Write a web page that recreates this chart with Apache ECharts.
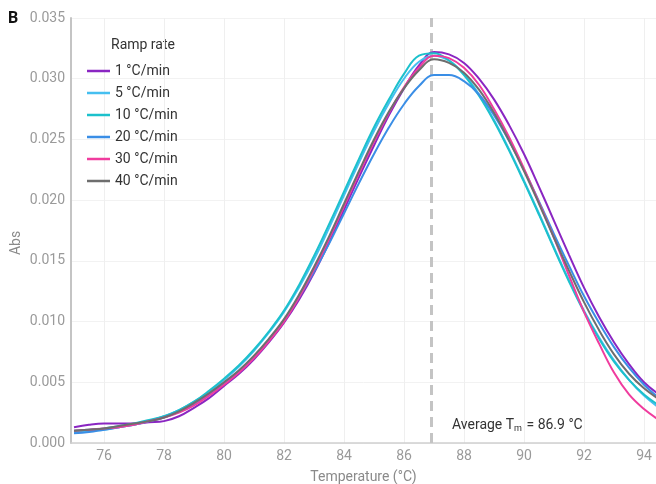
<!DOCTYPE html>
<html>
<head>
<meta charset="utf-8">
<script src="https://cdn.jsdelivr.net/npm/echarts@6/dist/echarts.min.js"></script>
<style>
html,body{margin:0;padding:0;background:#fff;}
#c{width:656px;height:484px;}
</style>
</head>
<body>
<div id="c"></div>
<script>
const temps = [75.0,75.5,76.0,76.5,77.0,77.5,78.0,78.5,79.0,79.5,80.0,80.5,81.0,81.5,82.0,82.5,83.0,83.5,84.0,84.5,85.0,85.5,86.0,86.5,87.0,87.5,88.0,88.5,89.0,89.5,90.0,90.5,91.0,91.5,92.0,92.5,93.0,93.5,94.0,94.5];

const rate1 = [0.0013,0.0015,0.0016,0.0016,0.0016,0.0017,0.0018,0.0022,0.0029,0.0037,0.0047,0.0057,0.0069,0.0083,0.0099,0.0118,0.0140,0.0165,0.0192,0.0219,0.0245,0.0270,0.0292,0.0311,0.0322,0.0320,0.0313,0.0300,0.0283,0.0262,0.0238,0.0211,0.0183,0.0155,0.0128,0.0104,0.0083,0.0065,0.0050,0.0040];
const rate5 = [0.0009,0.0010,0.0011,0.0013,0.0015,0.0018,0.0022,0.0027,0.0034,0.0042,0.0052,0.0063,0.0076,0.0091,0.0108,0.0128,0.0151,0.0177,0.0204,0.0231,0.0257,0.0280,0.0300,0.0314,0.0319,0.0315,0.0304,0.0287,0.0266,0.0242,0.0216,0.0189,0.0161,0.0134,0.0109,0.0087,0.0068,0.0052,0.0039,0.0029];
const rate10 = [0.0010,0.0011,0.0012,0.0014,0.0016,0.0019,0.0022,0.0027,0.0034,0.0043,0.0053,0.0064,0.0077,0.0092,0.0109,0.0130,0.0154,0.0180,0.0207,0.0234,0.0260,0.0283,0.0304,0.0319,0.0321,0.0315,0.0303,0.0286,0.0265,0.0241,0.0215,0.0188,0.0160,0.0133,0.0108,0.0086,0.0067,0.0052,0.0040,0.0031];
const rate20 = [0.0008,0.0009,0.0011,0.0013,0.0015,0.0018,0.0021,0.0026,0.0032,0.0040,0.0049,0.0059,0.0071,0.0085,0.0101,0.0120,0.0141,0.0164,0.0189,0.0214,0.0238,0.0260,0.0279,0.0294,0.0303,0.0303,0.0298,0.0287,0.0270,0.0249,0.0225,0.0199,0.0172,0.0146,0.0121,0.0099,0.0079,0.0062,0.0048,0.0037];
const rate30 = [0.0010,0.0011,0.0012,0.0013,0.0015,0.0018,0.0021,0.0025,0.0031,0.0039,0.0048,0.0058,0.0070,0.0084,0.0100,0.0120,0.0143,0.0168,0.0195,0.0222,0.0248,0.0272,0.0293,0.0309,0.0319,0.0317,0.0309,0.0295,0.0275,0.0252,0.0226,0.0198,0.0169,0.0138,0.0108,0.0082,0.0058,0.0040,0.0028,0.0019];
const rate40 = [0.0010,0.0011,0.0012,0.0014,0.0016,0.0018,0.0021,0.0026,0.0033,0.0041,0.0050,0.0060,0.0072,0.0086,0.0102,0.0122,0.0145,0.0170,0.0197,0.0224,0.0250,0.0273,0.0292,0.0307,0.0316,0.0313,0.0305,0.0291,0.0272,0.0249,0.0224,0.0197,0.0169,0.0142,0.0116,0.0093,0.0073,0.0057,0.0045,0.0036];

const seriesNames = ['1 °C/min','5 °C/min','10 °C/min','20 °C/min','30 °C/min','40 °C/min'];
const seriesValues = [rate1, rate5, rate10, rate20, rate30, rate40];
const seriesColors = ['#8a26c2','#45bff0','#1cc1cc','#3a8ee6','#f03c9e','#6e6e6e'];
const avgTm = 86.9;
const yTicks = [0, 0.005, 0.010, 0.015, 0.020, 0.025, 0.030, 0.035];

const chart = echarts.init(document.getElementById('c'));
const font = 'Roboto, "Noto Sans", sans-serif';

const series = seriesNames.map((n, i) => ({
  name: n,
  type: 'line',
  smooth: 0.4,
  symbol: 'none',
  data: temps.map((t, k) => [t, seriesValues[i][k]]),
  lineStyle: { width: 2, color: seriesColors[i] },
  itemStyle: { color: seriesColors[i] },
  z: 3
}));
series[0].markLine = {
  silent: true,
  symbol: ['none','none'],
  label: { show: false },
  lineStyle: { color: '#c4c4c4', type: [10, 6], width: 3 },
  data: [{ xAxis: avgTm }],
  z: 1
};

chart.setOption({
  animation: false,
  textStyle: { fontFamily: font },
  grid: { left: 71, right: 0, top: 18, bottom: 41, containLabel: false, outerBoundsMode: 'none' },
  xAxis: {
    type: 'value',
    min: 74.9,
    max: 94.4,
    splitNumber: 10,
    name: 'Temperature (°C)',
    nameLocation: 'middle',
    nameGap: 27,
    nameTextStyle: { color: '#8a8a8a', fontSize: 14, fontFamily: font },
    axisLine: { show: true, lineStyle: { color: '#cfcfcf', width: 1.5 } },
    axisTick: { show: false },
    axisLabel: {
      color: '#9a9a9a', fontSize: 14, margin: 6, fontFamily: font,
      showMinLabel: false, showMaxLabel: false,
      formatter: v => (Math.abs(v - Math.round(v)) < 1e-6 && Math.round(v) % 2 === 0) ? String(Math.round(v)) : ''
    },
    splitLine: { show: true, lineStyle: { color: '#efefef', width: 1 } }
  },
  yAxis: {
    type: 'value',
    min: yTicks[0],
    max: yTicks[yTicks.length - 1],
    interval: 0.005,
    axisLine: { show: true, lineStyle: { color: '#c4c4c4', width: 2 } },
    axisTick: { show: false },
    axisLabel: { color: '#9a9a9a', fontSize: 14, margin: 6, fontFamily: font, formatter: v => v.toFixed(3) },
    splitLine: { show: true, lineStyle: { color: '#f2f2f2', width: 1 } }
  },
  legend: {
    orient: 'vertical',
    left: 82,
    top: 59,
    itemWidth: 23,
    itemHeight: 2.5,
    itemGap: 8,
    icon: 'rect',
    textStyle: { color: '#333', fontSize: 14, lineHeight: 14, fontFamily: font },
    data: seriesNames
  },
  graphic: [
    { type: 'text', left: 8, top: 11, style: { text: 'B', fontSize: 16, fontWeight: 'bold', fill: '#111', fontFamily: font } },
    { type: 'text', left: 111, top: 38, style: { text: 'Ramp rate', fontSize: 14, fill: '#333', fontFamily: font } },
    { type: 'text', x: 16, y: 243, rotation: Math.PI / 2, style: { text: 'Abs', fontSize: 14, fill: '#8a8a8a', fontFamily: font, align: 'center', verticalAlign: 'middle' } },
    { type: 'text', left: 452, top: 418, z: 10,
      style: {
        text: '{a|Average T}{s|m}{a| = 86.9 °C}',
        rich: {
          a: { fontSize: 14, fill: '#333', fontFamily: font },
          s: { fontSize: 9, fill: '#333', fontFamily: font, padding: [8, 1, 0, 0] }
        }
      }
    }
  ],
  series: series
});
</script>
</body>
</html>
